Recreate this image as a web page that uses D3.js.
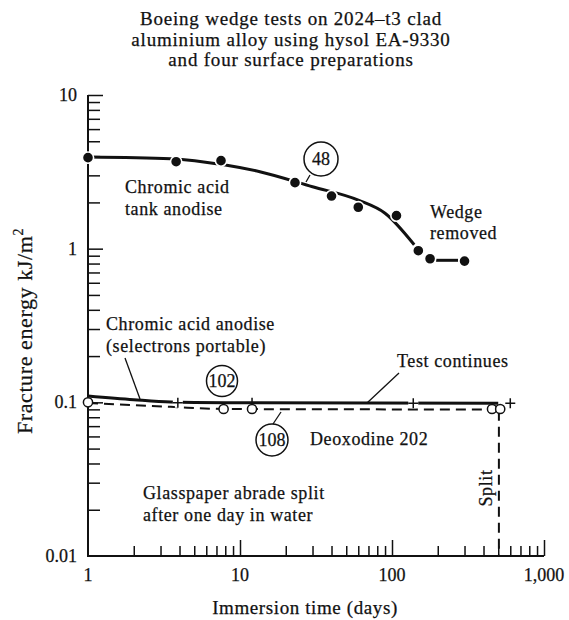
<!DOCTYPE html>
<html>
<head>
<meta charset="utf-8">
<script src="https://cdn.jsdelivr.net/npm/d3@7/dist/d3.min.js"></script>
<style>
  body { margin: 0; background: #fff; }
  svg { display: block; }
  text { font-family: "Liberation Serif", "Times New Roman", serif; fill: #111; stroke: #111; stroke-width: 0.25; }
</style>
</head>
<body>
<svg id="chart" width="569" height="620"></svg>
<script>
// ---- data ----
const titleLines = ["Boeing wedge tests on 2024\u2013t3 clad", "aluminium alloy using hysol EA-9330", "and four surface preparations"];
const xTickValues = [1, 10, 100, 1000];
const xTickLabels = ["1", "10", "100", "1,000"];
const yTickValues = [0.01, 0.1, 1, 10];
const yTickLabels = ["0.01", "0.1", "1", "10"];

// chromic acid tank anodise (filled dots + fitted curve)
const tankDots = [[1, 3.91], [3.8, 3.68], [7.5, 3.74], [23, 2.69], [40, 2.2], [60, 1.86], [107, 1.64], [149, 0.97], [178, 0.86], [300, 0.83]];
const tankFit  = [[1, 3.95], [3.5, 3.85], [8, 3.5], [13.5, 3.17], [30, 2.53], [60, 2.07], [90, 1.7], [140, 1.06]];
const tankTail = [[195, 0.84], [272, 0.84]];

// chromic acid anodise, selectrons portable (+ markers, solid line)
const selFit  = [[1, 0.11], [2, 0.104], [3.5, 0.1005], [8, 0.0995], [500, 0.0985]];
const selPlus = [[1, 0.1], [3.9, 0.0995], [12, 0.0995], [138, 0.0985], [600, 0.0985]];

// deoxodine 202 (open circles, dashed line)
const deoxCircles = [[1, 0.1], [7.8, 0.0905], [12, 0.0905], [455, 0.0905], [515, 0.0905]];
const deoxFit     = [[1, 0.099], [3.5, 0.0935], [8, 0.0905], [500, 0.0898]];
const splitLine   = [[505, 0.088], [505, 0.01]];

const svg = d3.select("#chart");
const x = d3.scaleLog().domain([1, 1000]).range([88, 544]);
const y = d3.scaleLog().domain([0.01, 10]).range([556, 95]);

// title
svg.append("text")
  .attr("text-anchor", "middle")
  .attr("font-size", 19)
  .attr("letter-spacing", 0.8)
  .selectAll("tspan")
  .data(titleLines).enter()
  .append("tspan")
  .attr("x", 291)
  .attr("y", (d, i) => 25 + i * 20.5)
  .text(d => d);

// ---- axes ----
const minorY = [];
[0.01, 0.1, 1].forEach(b => { for (let k = 2; k <= 9; k++) minorY.push(b * k); });
const minorX = [];
[1, 10, 100].forEach(b => { for (let k = 2; k <= 9; k++) minorX.push(b * k); });

const gy = svg.append("g").attr("transform", `translate(${x(1)},0)`);
gy.call(d3.axisLeft(y).tickValues(minorY).tickSize(-12).tickFormat(""));
gy.call(g => g.append("g").call(d3.axisLeft(y).tickValues([0.1, 1, 10]).tickSize(-15).tickFormat("")));

const gx = svg.append("g").attr("transform", `translate(0,${y(0.01)})`);
gx.call(d3.axisBottom(x).tickValues(minorX).tickSize(-10).tickFormat(""));
gx.call(g => g.append("g").call(d3.axisBottom(x).tickValues([10, 100, 1000]).tickSize(-16).tickFormat("")));

svg.selectAll(".domain").remove();
svg.selectAll(".tick line").attr("stroke", "#111").attr("stroke-width", 1.5);

// axis lines
svg.append("line").attr("x1", x(1)).attr("x2", x(1)).attr("y1", y(10)).attr("y2", y(0.01))
  .attr("stroke", "#111").attr("stroke-width", 2);
svg.append("line").attr("x1", x(1) - 1).attr("x2", x(1000)).attr("y1", y(0.01)).attr("y2", y(0.01))
  .attr("stroke", "#111").attr("stroke-width", 2);

// tick labels
svg.append("g").selectAll("text")
  .data(yTickValues).enter()
  .append("text")
  .attr("x", 77).attr("y", d => y(d) + 6)
  .attr("text-anchor", "end").attr("font-size", 18)
  .text((d, i) => yTickLabels[i]);

svg.append("g").selectAll("text")
  .data(xTickValues).enter()
  .append("text")
  .attr("x", d => x(d)).attr("y", 581)
  .attr("text-anchor", "middle").attr("font-size", 18)
  .text((d, i) => xTickLabels[i]);

// axis titles
svg.append("text")
  .attr("x", 305).attr("y", 614)
  .attr("text-anchor", "middle").attr("font-size", 19).attr("letter-spacing", 0.6)
  .text("Immersion time (days)");

const yt = svg.append("text")
  .attr("transform", "translate(32,331) rotate(-90)")
  .attr("text-anchor", "middle").attr("font-size", 22).attr("letter-spacing", 0.6);
yt.append("tspan").text("Fracture energy kJ/m");
yt.append("tspan").attr("font-size", 14).attr("dy", -9).text("2");

// ---- series ----
const line = d3.line().x(d => x(d[0])).y(d => y(d[1])).curve(d3.curveMonotoneX);

svg.append("path").datum(tankFit).attr("d", line)
  .attr("fill", "none").attr("stroke", "#111").attr("stroke-width", 3);
svg.append("path").datum(tankTail).attr("d", line)
  .attr("fill", "none").attr("stroke", "#111").attr("stroke-width", 3);

svg.append("path").datum(deoxFit).attr("d", line)
  .attr("fill", "none").attr("stroke", "#111").attr("stroke-width", 2)
  .attr("stroke-dasharray", "10,6");
svg.append("path").datum(splitLine).attr("d", d3.line().x(d => x(d[0])).y(d => y(d[1])))
  .attr("fill", "none").attr("stroke", "#111").attr("stroke-width", 2)
  .attr("stroke-dasharray", "10,6");

svg.append("path").datum(selFit).attr("d", line)
  .attr("fill", "none").attr("stroke", "#111").attr("stroke-width", 3);

// filled dots with a thin white halo so the curve breaks round them
svg.append("g").selectAll("circle")
  .data(tankDots).enter()
  .append("circle")
  .attr("cx", d => x(d[0])).attr("cy", d => y(d[1])).attr("r", 5.6)
  .attr("fill", "#111").attr("stroke", "#fff").attr("stroke-width", 1.6);

// plus markers (white underlay then black)
const plusPath = d => {
  const px = x(d[0]), py = y(d[1]);
  return `M${px - 5},${py}H${px + 5}M${px},${py - 5}V${py + 5}`;
};
svg.append("g").selectAll("path")
  .data(selPlus.slice(1, 2).concat(selPlus.slice(3))).enter()
  .append("path").attr("d", plusPath)
  .attr("stroke", "#fff").attr("stroke-width", 6);
svg.append("g").selectAll("path")
  .data(selPlus).enter()
  .append("path").attr("d", plusPath)
  .attr("stroke", "#111").attr("stroke-width", 1.5);

// open circles
svg.append("g").selectAll("circle")
  .data(deoxCircles).enter()
  .append("circle")
  .attr("cx", d => x(d[0])).attr("cy", d => y(d[1])).attr("r", 4.6)
  .attr("fill", "#fff").attr("stroke", "#111").attr("stroke-width", 1.5);

// ---- annotations ----
function label(lines, lx, ly, step) {
  const t = svg.append("text").attr("font-size", 18).attr("letter-spacing", 0.6);
  lines.forEach((s, i) => t.append("tspan").attr("x", lx).attr("y", ly + i * step).text(s));
}
label(["Chromic acid", "tank anodise"], 125, 193, 22);
label(["Wedge", "removed"], 430, 218, 21);
label(["Chromic acid anodise", "(selectrons portable)"], 106, 330, 22);
label(["Test continues"], 397, 367, 0);
label(["Deoxodine 202"], 310, 445, 0);
label(["Glasspaper abrade split", "after one day in water"], 143, 499, 22);

svg.append("text")
  .attr("transform", "translate(492,488) rotate(-90)")
  .attr("text-anchor", "middle").attr("font-size", 18).attr("letter-spacing", 0.6)
  .text("Split");

function badge(txt, cx, cy, r) {
  svg.append("circle").attr("cx", cx).attr("cy", cy).attr("r", r)
    .attr("fill", "#fff").attr("stroke", "#111").attr("stroke-width", 1.5);
  svg.append("text").attr("x", cx).attr("y", cy + 6)
    .attr("text-anchor", "middle").attr("font-size", 18).text(txt);
}
const leader = (x1, y1, x2, y2) => svg.append("line")
  .attr("x1", x1).attr("y1", y1).attr("x2", x2).attr("y2", y2)
  .attr("stroke", "#111").attr("stroke-width", 1.3);

leader(310, 175, 306, 182);
badge("48", 321, 159, 17);
badge("102", 222, 381, 15.5);
leader(273, 424, 281, 412);
badge("108", 272, 440, 16);
leader(125, 358, 140, 399);
leader(399, 373, 367, 403);
</script>
</body>
</html>
